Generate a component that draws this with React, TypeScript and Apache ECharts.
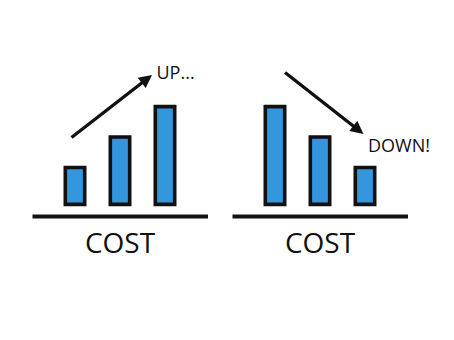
import React, { useEffect, useRef } from "react";
import * as echarts from "echarts";

const categories = ["A", "B", "C"];
const upValues = [4, 7, 10];
const downValues = [10, 7, 4];
const axisLabel = "COST";
const upText = "UP...";
const downText = "DOWN!";

function arrow(x1: number, y1: number, x2: number, y2: number) {
  const dx = x2 - x1;
  const dy = y2 - y1;
  const len = Math.sqrt(dx * dx + dy * dy);
  const ux = dx / len;
  const uy = dy / len;
  const hl = 13;
  const hw = 6.5;
  const bx = x2 - ux * hl;
  const by = y2 - uy * hl;
  return [
    {
      type: "line",
      shape: { x1, y1, x2: bx + ux * 2, y2: by + uy * 2 },
      style: { stroke: "#111", lineWidth: 3.4 },
    },
    {
      type: "polygon",
      shape: {
        points: [
          [x2, y2],
          [bx - uy * hw, by + ux * hw],
          [bx + uy * hw, by - ux * hw],
        ],
      },
      style: { fill: "#111" },
    },
  ];
}

export default function App() {
  const ref = useRef<HTMLDivElement>(null);
  useEffect(() => {
    const chart = echarts.init(ref.current!, null, { renderer: "svg" });
    const font = "'Open Sans', sans-serif";
    const barStyle = { color: "#3496dd", borderColor: "#111", borderWidth: 3.6 };
    chart.setOption({
      animation: false,
      backgroundColor: "#fff",
      grid: [
        { left: 52.5, width: 135, top: 104.8, height: 101.4 },
        { left: 252.5, width: 135, top: 104.8, height: 101.4 },
      ],
      xAxis: [
        { type: "category", data: categories, gridIndex: 0, show: false },
        { type: "category", data: categories, gridIndex: 1, show: false },
      ],
      yAxis: [
        { type: "value", min: 0, max: 10, gridIndex: 0, show: false },
        { type: "value", min: 0, max: 10, gridIndex: 1, show: false },
      ],
      series: [
        { type: "bar", xAxisIndex: 0, yAxisIndex: 0, data: upValues, barWidth: 23, itemStyle: barStyle },
        { type: "bar", xAxisIndex: 1, yAxisIndex: 1, data: downValues, barWidth: 23, itemStyle: barStyle },
      ],
      graphic: [
        { type: "line", shape: { x1: 32.5, y1: 216.5, x2: 208, y2: 216.5 }, style: { stroke: "#111", lineWidth: 4 } },
        { type: "line", shape: { x1: 232.5, y1: 216.5, x2: 408, y2: 216.5 }, style: { stroke: "#111", lineWidth: 4 } },
        { type: "text", x: 120, y: 242, style: { text: axisLabel, font: `28px ${font}`, fill: "#111", align: "center", verticalAlign: "middle" } },
        { type: "text", x: 320, y: 242, style: { text: axisLabel, font: `28px ${font}`, fill: "#111", align: "center", verticalAlign: "middle" } },
        { type: "text", x: 156.5, y: 72, style: { text: upText, font: `18px ${font}`, fill: "#111", align: "left", verticalAlign: "middle" } },
        { type: "text", x: 368, y: 145, style: { text: downText, font: `18px ${font}`, fill: "#111", align: "left", verticalAlign: "middle" } },
        ...arrow(71.5, 137.5, 152, 75),
        ...arrow(285, 72.5, 363.5, 134),
      ],
    });
    return () => chart.dispose();
  }, []);
  return <div ref={ref} style={{ width: 454, height: 340, position: "absolute", left: 0, top: 0 }} />;
}
